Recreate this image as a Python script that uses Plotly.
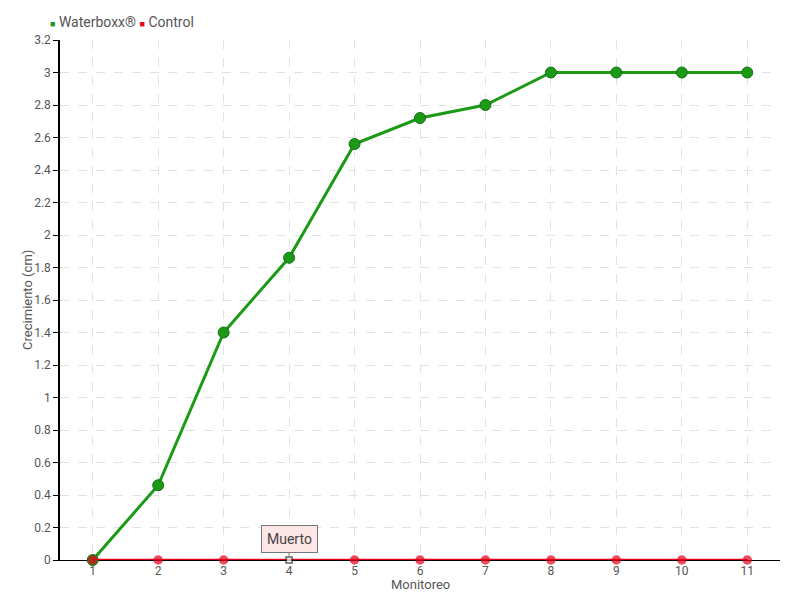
import plotly.graph_objects as go

monitoreo = [1, 2, 3, 4, 5, 6, 7, 8, 9, 10, 11]
waterboxx = [0, 0.46, 1.4, 1.86, 2.56, 2.72, 2.8, 3.0, 3.0, 3.0, 3.0]
control = [0, 0, 0, 0, 0, 0, 0, 0, 0, 0, 0]
muerto_idx = 3  # 4th monitoring: control plant dead

FONT = "Roboto, sans-serif"
GREEN = "#1c9a16"
RED = "#e8001c"
TXT = "#555"

ctrl_symbols = ["square" if i == muerto_idx else "circle" for i in range(len(control))]
ctrl_colors = ["white" if i == muerto_idx else RED for i in range(len(control))]
ctrl_sizes = [6 if i == muerto_idx else 8 for i in range(len(control))]
ctrl_line_colors = ["#222" if i == muerto_idx else RED for i in range(len(control))]

fig = go.Figure()
fig.add_trace(go.Scatter(
    x=monitoreo, y=waterboxx, mode="lines+markers", name="Waterboxx®",
    line=dict(color=GREEN, width=3), cliponaxis=False,
    marker=dict(symbol="circle", color=GREEN, size=11, line=dict(color="#17701a", width=1)),
))
fig.add_trace(go.Scatter(
    x=monitoreo, y=control, mode="lines+markers", name="Control",
    line=dict(color=RED, width=2.5), cliponaxis=False,
    marker=dict(symbol=ctrl_symbols, color=ctrl_colors, size=ctrl_sizes,
                line=dict(color=ctrl_line_colors, width=1.5)),
))

# legend drawn as text with coloured squares
fig.add_annotation(
    xref="paper", yref="paper", x=-0.016, y=1.0, xanchor="left", yanchor="bottom",
    yshift=8, showarrow=False,
    text=(f"<span style='color:{GREEN};font-size:9px'>■</span> Waterboxx® "
          f"<span style='color:{RED};font-size:9px'>■</span> Control"),
    font=dict(family=FONT, size=14, color=TXT),
)
# axis titles
fig.add_annotation(
    xref="paper", yref="paper", x=0.5, y=0, yshift=-24, xanchor="center", yanchor="middle",
    showarrow=False, text="Monitoreo", font=dict(family=FONT, size=13, color=TXT),
)
fig.add_annotation(
    xref="paper", yref="paper", x=-0.046, y=0.5, xanchor="center", yanchor="middle",
    textangle=-90, showarrow=False, text="Crecimiento (cm)",
    font=dict(family=FONT, size=13, color=TXT),
)

fig.add_annotation(
    x=monitoreo[muerto_idx], y=control[muerto_idx], text="Muerto",
    showarrow=True, arrowhead=0, arrowwidth=1, arrowcolor="#777",
    ax=0, ay=-21, standoff=3,
    bgcolor="#fde6e6", bordercolor="#777", borderwidth=1, borderpad=5,
    font=dict(family=FONT, size=14, color="#444"),
)

fig.update_layout(
    width=784, height=584, showlegend=False,
    margin=dict(l=52, r=12, t=32, b=32, autoexpand=False),
    paper_bgcolor="white", plot_bgcolor="white",
    font=dict(family=FONT, size=13, color=TXT),
    xaxis=dict(
        range=[0.5, 11.5], tickmode="array", tickvals=monitoreo,
        ticktext=[str(m) for m in monitoreo],
        showgrid=True, gridcolor="#e2e2e2", griddash="dash", gridwidth=1,
        showline=True, linecolor="black", linewidth=1, layer="below traces",
        zeroline=False, ticks="", automargin=False,
        tickfont=dict(size=12, color=TXT),
    ),
    yaxis=dict(
        range=[0, 3.2], dtick=0.2, tick0=0, automargin=False,
        showgrid=True, gridcolor="#e2e2e2", griddash="dash", gridwidth=1,
        showline=True, linecolor="black", linewidth=1.5,
        zeroline=False, ticks="outside", ticklen=5, tickcolor="black",
        tickfont=dict(size=12, color=TXT),
    ),
)

fig.write_html("out.html")
